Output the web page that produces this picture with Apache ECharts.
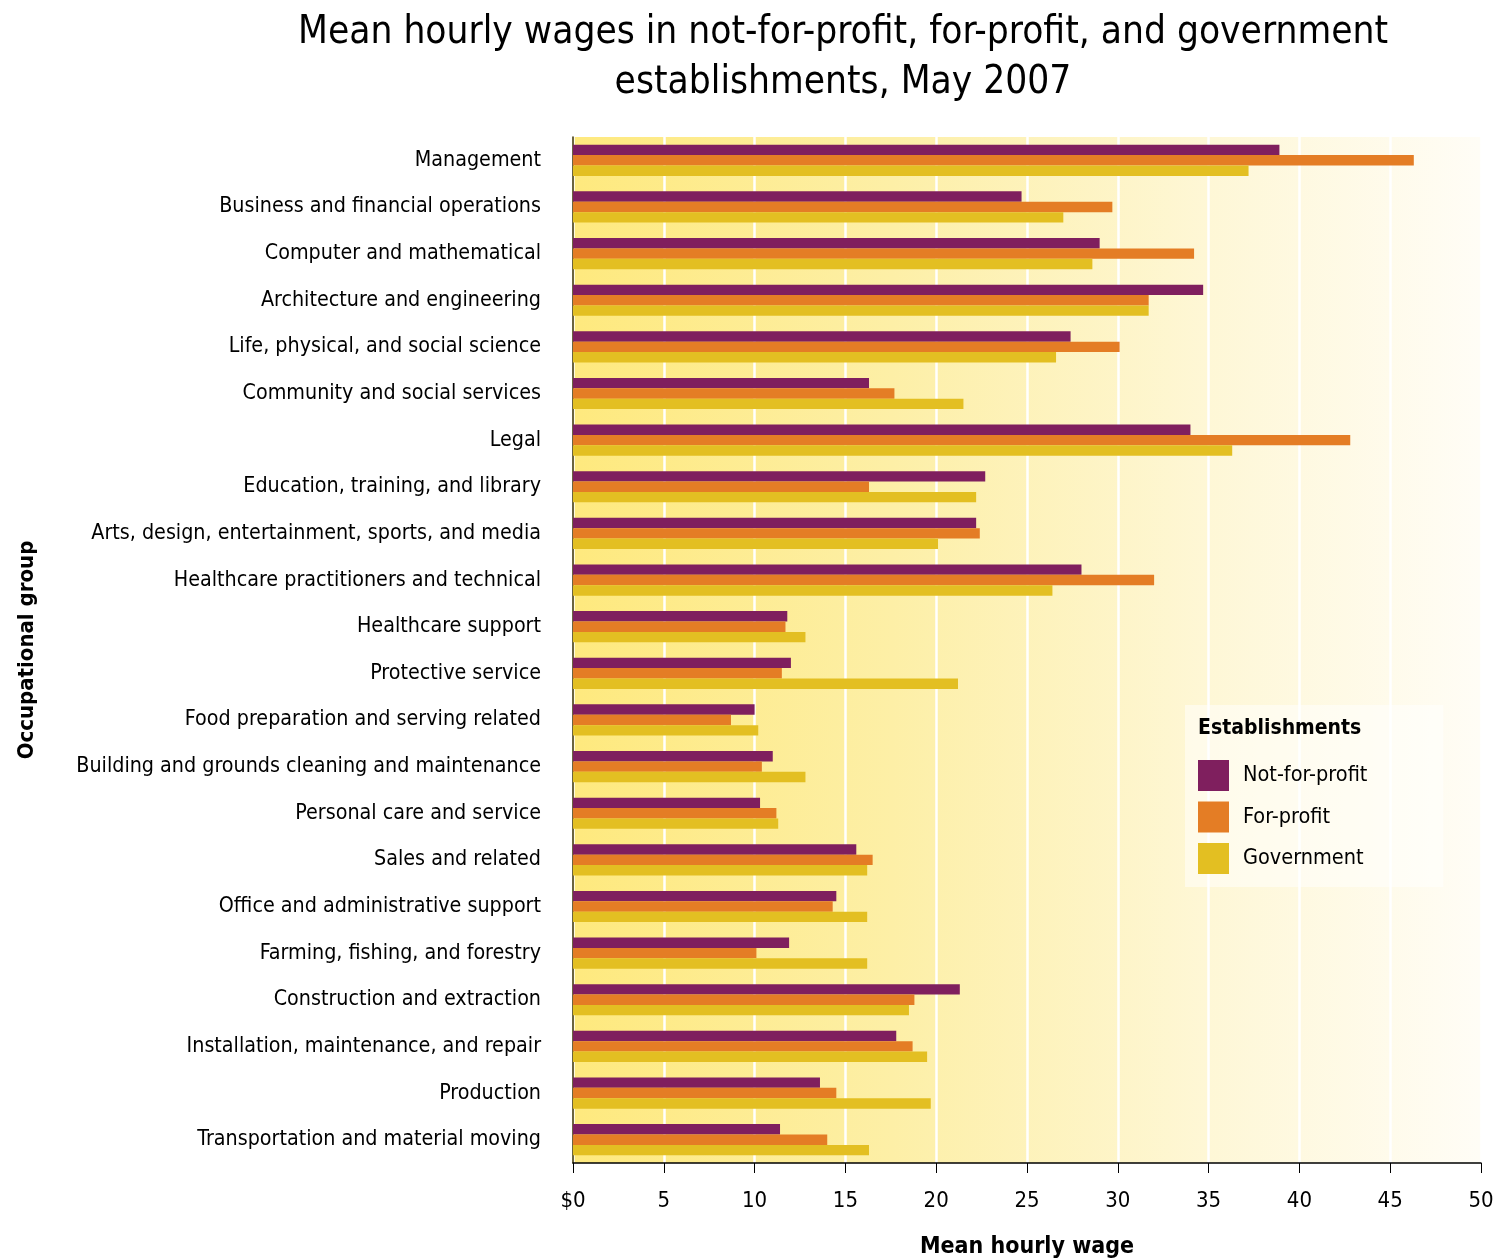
<!DOCTYPE html>
<html>
<head>
<meta charset="utf-8">
<script src="https://cdn.jsdelivr.net/npm/echarts@6/dist/echarts.min.js"></script>
<style>html,body{margin:0;padding:0;background:#fff;}#c{width:1508px;height:1259px;}</style>
</head>
<body>
<div id="c"></div>
<script>
const categories = [
  "Management","Business and financial operations","Computer and mathematical","Architecture and engineering",
  "Life, physical, and social science","Community and social services","Legal","Education, training, and library",
  "Arts, design, entertainment, sports, and media","Healthcare practitioners and technical","Healthcare support",
  "Protective service","Food preparation and serving related","Building and grounds cleaning and maintenance",
  "Personal care and service","Sales and related","Office and administrative support","Farming, fishing, and forestry",
  "Construction and extraction","Installation, maintenance, and repair","Production","Transportation and material moving"
];
const notForProfit = [38.9,24.7,29.0,34.7,27.4,16.3,34.0,22.7,22.2,28.0,11.8,12.0,10.0,11.0,10.3,15.6,14.5,11.9,21.3,17.8,13.6,11.4];
const forProfit    = [46.3,29.7,34.2,31.7,30.1,17.7,42.8,16.3,22.4,32.0,11.7,11.5,8.7,10.4,11.2,16.5,14.3,10.1,18.8,18.7,14.5,14.0];
const government   = [37.2,27.0,28.6,31.7,26.6,21.5,36.3,22.2,20.1,26.4,12.8,21.2,10.2,12.8,11.3,16.2,16.2,16.2,18.5,19.5,19.7,16.3];
const seriesNames = ["Not-for-profit","For-profit","Government"];
const colors = ["#7f1f5e","#e47d25","#e3bf22"];

const FONT = "'DejaVu Sans Condensed','Liberation Sans Narrow',sans-serif";
const chart = echarts.init(document.getElementById('c'));
const seriesData = [notForProfit, forProfit, government];
chart.setOption({
  animation: false,
  textStyle: {fontFamily: FONT},
  title: [
    {text: "Mean hourly wages in not-for-profit, for-profit, and government\nestablishments, May 2007",
     left: 838, textAlign: 'center', top: 3,
     textStyle: {fontFamily: FONT, fontSize: 38.5, fontWeight: 'normal', color: '#000', lineHeight: 50}},
    {text: "Establishments", left: 1193, top: 713,
     textStyle: {fontFamily: FONT, fontSize: 21, fontWeight: 'bold', color: '#000'}}
  ],
  legend: {
    orient: 'vertical', left: 1185, top: 705,
    padding: [55, 76, 13, 13], itemGap: 10.5,
    itemWidth: 31, itemHeight: 31, icon: 'rect',
    backgroundColor: 'rgba(255,255,255,0.5)',
    data: seriesNames,
    textStyle: {fontFamily: FONT, fontSize: 21.5, color: '#000', padding: [0,0,0,9]}
  },
  grid: {
    left: 573, right: 27, top: 137, bottom: 96, show: true, borderWidth: 0,
    containLabel: false, outerBoundsMode: 'none',
    backgroundColor: new echarts.graphic.LinearGradient(0,0,1,0,[
      {offset:0, color:'#fee97e'},{offset:0.35, color:'#fdefa6'},{offset:0.7, color:'#fef7d6'},{offset:1, color:'#fffdf6'}])
  },
  xAxis: {
    type: 'value', min: 0, max: 50, interval: 5,
    name: 'Mean hourly wage', nameLocation: 'middle', nameGap: 73,
    nameTextStyle: {fontFamily: FONT, fontSize: 23, fontWeight: 'bold', color: '#000'},
    axisLine: {show: true, lineStyle: {color: '#000', width: 1.5}},
    axisTick: {show: true, length: 10, lineStyle: {color: '#000'}},
    axisLabel: {fontFamily: FONT, fontSize: 22, color: '#000', margin: 27,
      formatter: v => v === 0 ? '$0' : String(v)},
    splitLine: {show: true, lineStyle: {color: '#ffffff', width: 2.5}}
  },
  yAxis: {
    type: 'category', data: categories, inverse: true,
    name: 'Occupational group', nameLocation: 'middle', nameGap: 535, nameRotate: 90,
    nameTextStyle: {fontFamily: FONT, fontSize: 22, fontWeight: 'bold', color: '#000'},
    axisLine: {show: true, lineStyle: {color: '#3a3000', width: 1.5}},
    axisTick: {show: false},
    axisLabel: {fontFamily: FONT, fontSize: 21.3, color: '#000', margin: 32, padding: [4,0,0,0]}
  },
  series: seriesNames.map((n, i) => ({
    name: n, type: 'bar', data: seriesData[i], barWidth: 10.4, barGap: '0%',
    itemStyle: {color: colors[i]}
  }))
});
</script>
</body>
</html>
